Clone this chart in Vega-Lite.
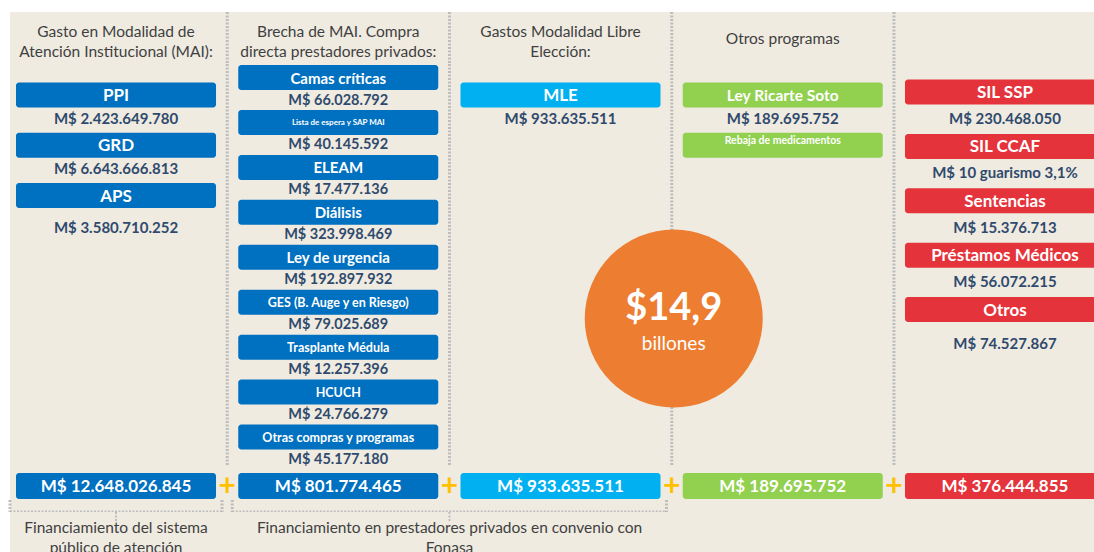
{
  "$schema": "https://vega.github.io/schema/vega-lite/v6.json",
  "background": "#FFFFFF",
  "padding": {"left": 8, "top": 10, "right": 0, "bottom": 0},
  "spacing": 0,
  "bounds": "flush",
  "config": {"view": {"stroke": null, "fill": "#EFEBE1"}, "font": "Lato", "concat": {"spacing": 0}},
  "datasets": {
    "columnas": [
      {"columna": "MAI", "encabezado": "Gasto en Modalidad de\nAtención Institucional (MAI):", "total": "M$ 12.648.026.845"},
      {"columna": "Brecha MAI", "encabezado": "Brecha de MAI. Compra\ndirecta prestadores privados:", "total": "M$ 801.774.465"},
      {"columna": "MLE", "encabezado": "Gastos Modalidad Libre\nElección:", "total": "M$ 933.635.511"},
      {"columna": "Otros programas", "encabezado": "Otros programas", "total": "M$ 189.695.752"},
      {"columna": "Otros gastos", "encabezado": "", "total": "M$ 376.444.855"}
    ],
    "partidas": [
      {"columna": "MAI", "orden": 1, "nombre": "PPI", "monto": "M$ 2.423.649.780"},
      {"columna": "MAI", "orden": 2, "nombre": "GRD", "monto": "M$ 6.643.666.813"},
      {"columna": "MAI", "orden": 3, "nombre": "APS", "monto": "M$ 3.580.710.252"},
      {"columna": "Brecha MAI", "orden": 1, "nombre": "Camas críticas", "monto": "M$ 66.028.792"},
      {"columna": "Brecha MAI", "orden": 2, "nombre": "Lista de espera  y SAP MAI", "monto": "M$ 40.145.592"},
      {"columna": "Brecha MAI", "orden": 3, "nombre": "ELEAM", "monto": "M$ 17.477.136"},
      {"columna": "Brecha MAI", "orden": 4, "nombre": "Diálisis", "monto": "M$ 323.998.469"},
      {"columna": "Brecha MAI", "orden": 5, "nombre": "Ley de urgencia", "monto": "M$ 192.897.932"},
      {"columna": "Brecha MAI", "orden": 6, "nombre": "GES (B. Auge y en Riesgo)", "monto": "M$ 79.025.689"},
      {"columna": "Brecha MAI", "orden": 7, "nombre": "Trasplante Médula", "monto": "M$ 12.257.396"},
      {"columna": "Brecha MAI", "orden": 8, "nombre": "HCUCH", "monto": "M$ 24.766.279"},
      {"columna": "Brecha MAI", "orden": 9, "nombre": "Otras compras y programas", "monto": "M$ 45.177.180"},
      {"columna": "MLE", "orden": 1, "nombre": "MLE", "monto": "M$ 933.635.511"},
      {"columna": "Otros programas", "orden": 1, "nombre": "Ley Ricarte Soto", "monto": "M$ 189.695.752"},
      {"columna": "Otros programas", "orden": 2, "nombre": "Rebaja de medicamentos", "monto": ""},
      {"columna": "Otros gastos", "orden": 1, "nombre": "SIL SSP", "monto": "M$ 230.468.050"},
      {"columna": "Otros gastos", "orden": 2, "nombre": "SIL CCAF", "monto": "M$ 10  guarismo 3,1%"},
      {"columna": "Otros gastos", "orden": 3, "nombre": "Sentencias", "monto": "M$ 15.376.713"},
      {"columna": "Otros gastos", "orden": 4, "nombre": "Préstamos Médicos", "monto": "M$ 56.072.215"},
      {"columna": "Otros gastos", "orden": 5, "nombre": "Otros", "monto": "M$ 74.527.867"}
    ],
    "resumen": [{"cifra": "$14,9", "unidad": "billones"}],
    "pies": [
      {"texto": "Financiamiento del sistema\npúblico de atención", "desde": "MAI", "hasta": "MAI"},
      {"texto": "Financiamiento en prestadores privados en convenio con\nFonasa", "desde": "Brecha MAI", "hasta": "MLE"}
    ]
  },
  "vconcat": [
    {
      "width": 1086, "height": 52,
      "data": {"name": "columnas"},
      "layer": [
        {
          "transform": [{"filter": "datum.columna != 'MAI'"}],
          "mark": {"type": "rule", "xOffset": -11, "strokeDash": [2, 1.5], "strokeWidth": 3, "color": "#BDBDBD"},
          "encoding": {"x": {"field": "columna", "type": "nominal", "bandPosition": 0, "axis": null,
            "scale": {"type": "band", "domain": ["MAI", "Brecha MAI", "MLE", "Otros programas", "Otros gastos"], "range": [6, 1095], "paddingInner": 0.1, "paddingOuter": 0}}}
        },
        {
          "transform": [{"filter": "datum.columna != 'Otros programas'"}],
          "mark": {"type": "text", "lineBreak": "\n", "baseline": "middle", "dy": -6, "fontSize": 15.5, "lineHeight": 20, "color": "#3F3F3F"},
          "encoding": {
            "x": {"field": "columna", "type": "nominal", "axis": null},
            "text": {"field": "encabezado"}
          }
        },
        {
          "transform": [{"filter": "datum.columna == 'Otros programas'"}],
          "mark": {"type": "text", "baseline": "middle", "dy": 1, "fontSize": 15.5, "color": "#3F3F3F"},
          "encoding": {
            "x": {"field": "columna", "type": "nominal", "axis": null},
            "text": {"field": "encabezado"}
          }
        }
      ]
    },
    {
      "width": 1086, "height": 402,
      "data": {"name": "partidas"},
      "resolve": {"scale": {"y": "independent"}},
      "layer": [
        {
          "data": {"name": "columnas"},
          "transform": [{"filter": "datum.columna != 'MAI'"}],
          "mark": {"type": "rule", "xOffset": -11, "strokeDash": [2, 1.5], "strokeWidth": 3, "color": "#BDBDBD"},
          "encoding": {"x": {"field": "columna", "type": "nominal", "bandPosition": 0, "axis": null,
            "scale": {"type": "band", "domain": ["MAI", "Brecha MAI", "MLE", "Otros programas", "Otros gastos"], "range": [6, 1095], "paddingInner": 0.1, "paddingOuter": 0}}}
        },
        {
          "transform": [{"filter": "indexof(['MAI','MLE','Otros programas'], datum.columna) >= 0"}],
          "encoding": {
            "x": {"field": "columna", "type": "nominal", "axis": null},
            "y": {"field": "orden", "type": "quantitative", "axis": null, "scale": {"domain": [1, 3], "range": [31, 131.5], "nice": false, "zero": false}}
          },
          "layer": [
            {
              "mark": {"type": "rect", "yOffset": -12.5, "y2Offset": 12.5, "cornerRadius": 3},
              "encoding": {
                "y2": {"field": "orden"},
                "color": {"field": "columna", "type": "nominal", "legend": null,
                  "scale": {"domain": ["MAI", "Brecha MAI", "MLE", "Otros programas", "Otros gastos"], "range": ["#0070C0", "#0070C0", "#00B0F0", "#92D050", "#E5333B"]}}
              }
            },
            {
              "transform": [{"filter": "datum.columna != 'Otros programas'"}],
              "mark": {"type": "text", "color": "#FFFFFF", "fontWeight": "bold", "fontSize": 17, "baseline": "middle", "dy": 1},
              "encoding": {"text": {"field": "nombre"}}
            },
            {
              "transform": [{"filter": "datum.nombre == 'Ley Ricarte Soto'"}],
              "mark": {"type": "text", "color": "#FFFFFF", "fontWeight": "bold", "fontSize": 15.5, "baseline": "middle", "dy": 1},
              "encoding": {"text": {"field": "nombre"}}
            },
            {
              "transform": [{"filter": "datum.nombre == 'Rebaja de medicamentos'"}],
              "mark": {"type": "text", "color": "#FFFFFF", "fontWeight": "bold", "fontSize": 10.5, "baseline": "middle", "dy": -4},
              "encoding": {"text": {"field": "nombre"}}
            },
            {
              "transform": [{"filter": "datum.nombre != 'APS'"}],
              "mark": {"type": "text", "color": "#2F4A6D", "fontWeight": "bold", "fontSize": 15, "baseline": "middle", "dy": 24},
              "encoding": {"text": {"field": "monto"}}
            },
            {
              "transform": [{"filter": "datum.nombre == 'APS'"}],
              "mark": {"type": "text", "color": "#2F4A6D", "fontWeight": "bold", "fontSize": 15, "baseline": "middle", "dy": 32},
              "encoding": {"text": {"field": "monto"}}
            }
          ]
        },
        {
          "transform": [{"filter": "datum.columna == 'Brecha MAI'"}],
          "encoding": {
            "x": {"field": "columna", "type": "nominal", "axis": null},
            "y": {"field": "orden", "type": "quantitative", "axis": null, "scale": {"domain": [1, 9], "range": [13.5, 373], "nice": false, "zero": false}}
          },
          "layer": [
            {
              "mark": {"type": "rect", "yOffset": -12.5, "y2Offset": 12.5, "cornerRadius": 3, "color": "#0070C0"},
              "encoding": {"y2": {"field": "orden"}}
            },
            {
              "transform": [{"filter": "indexof(['Camas críticas','ELEAM','Diálisis','Ley de urgencia'], datum.nombre) >= 0"}],
              "mark": {"type": "text", "color": "#FFFFFF", "fontWeight": "bold", "fontSize": 15, "baseline": "middle", "dy": 1},
              "encoding": {"text": {"field": "nombre"}}
            },
            {
              "transform": [{"filter": "indexof(['GES (B. Auge y en Riesgo)','Trasplante Médula','HCUCH','Otras compras y programas'], datum.nombre) >= 0"}],
              "mark": {"type": "text", "color": "#FFFFFF", "fontWeight": "bold", "fontSize": 12.5, "baseline": "middle", "dy": 1},
              "encoding": {"text": {"field": "nombre"}}
            },
            {
              "transform": [{"filter": "datum.nombre == 'Lista de espera  y SAP MAI'"}],
              "mark": {"type": "text", "color": "#FFFFFF", "fontWeight": "bold", "fontSize": 8, "baseline": "middle", "dy": 1},
              "encoding": {"text": {"field": "nombre"}}
            },
            {
              "mark": {"type": "text", "color": "#2F4A6D", "fontWeight": "bold", "fontSize": 14.5, "baseline": "middle", "dy": 23},
              "encoding": {"text": {"field": "monto"}}
            }
          ]
        },
        {
          "transform": [{"filter": "datum.columna == 'Otros gastos'"}],
          "encoding": {
            "x": {"field": "columna", "type": "nominal", "axis": null},
            "y": {"field": "orden", "type": "quantitative", "axis": null, "scale": {"domain": [1, 5], "range": [28, 245.5], "nice": false, "zero": false}}
          },
          "layer": [
            {
              "mark": {"type": "rect", "yOffset": -12.5, "y2Offset": 12.5, "cornerRadius": 3, "color": "#E5333B", "clip": true},
              "encoding": {"y2": {"field": "orden"}}
            },
            {
              "mark": {"type": "text", "color": "#FFFFFF", "fontWeight": "bold", "fontSize": 17, "baseline": "middle", "dy": 1},
              "encoding": {"text": {"field": "nombre"}}
            },
            {
              "transform": [{"filter": "datum.nombre != 'Otros'"}],
              "mark": {"type": "text", "color": "#2F4A6D", "fontWeight": "bold", "fontSize": 15, "baseline": "middle", "dy": 27},
              "encoding": {"text": {"field": "monto"}}
            },
            {
              "transform": [{"filter": "datum.nombre == 'Otros'"}],
              "mark": {"type": "text", "color": "#2F4A6D", "fontWeight": "bold", "fontSize": 15, "baseline": "middle", "dy": 34},
              "encoding": {"text": {"field": "monto"}}
            }
          ]
        },
        {
          "data": {"name": "resumen"},
          "encoding": {"x": {"datum": "Otros programas", "type": "nominal", "bandPosition": 0, "axis": null}},
          "layer": [
            {"mark": {"type": "point", "shape": "circle", "filled": true, "size": 31684, "color": "#ED7D31", "opacity": 1, "xOffset": -9, "yOffset": 53.5}},
            {"mark": {"type": "text", "color": "#FFFFFF", "fontWeight": "bold", "fontSize": 38, "baseline": "middle", "xOffset": -9, "yOffset": 44}, "encoding": {"text": {"field": "cifra"}}},
            {"mark": {"type": "text", "color": "#FFFFFF", "fontSize": 19, "baseline": "middle", "xOffset": -9, "yOffset": 79}, "encoding": {"text": {"field": "unidad"}}}
          ]
        }
      ]
    },
    {
      "width": 1086, "height": 46,
      "data": {"name": "columnas"},
      "encoding": {"y": {"datum": "Total", "type": "nominal", "axis": null, "scale": {"type": "band", "paddingInner": 0, "paddingOuter": 0}}},
      "layer": [
        {
          "mark": {"type": "rect", "height": 26, "cornerRadius": 3, "clip": true, "yOffset": -3},
          "encoding": {
            "x": {"field": "columna", "type": "nominal", "axis": null,
              "scale": {"type": "band", "domain": ["MAI", "Brecha MAI", "MLE", "Otros programas", "Otros gastos"], "range": [6, 1095], "paddingInner": 0.1, "paddingOuter": 0}},
            "color": {"field": "columna", "type": "nominal", "legend": null,
              "scale": {"domain": ["MAI", "Brecha MAI", "MLE", "Otros programas", "Otros gastos"], "range": ["#0070C0", "#0070C0", "#1BA3E3", "#92D050", "#E5333B"]}}
          }
        },
        {
          "mark": {"type": "text", "color": "#FFFFFF", "fontWeight": "bold", "fontSize": 17, "baseline": "middle", "dy": -2},
          "encoding": {"x": {"field": "columna", "type": "nominal", "axis": null}, "text": {"field": "total"}}
        },
        {
          "transform": [{"filter": "datum.columna != 'MAI'"}],
          "mark": {"type": "text", "text": "+", "color": "#FFC000", "fontSize": 30, "fontWeight": "bold", "baseline": "middle", "xOffset": -11, "dy": -2},
          "encoding": {"x": {"field": "columna", "type": "nominal", "bandPosition": 0, "axis": null}}
        },
        {
          "data": {"name": "pies"},
          "mark": {"type": "rule", "strokeDash": [2, 1.5], "strokeWidth": 3, "color": "#BDBDBD", "xOffset": -6, "x2Offset": 6},
          "encoding": {
            "x": {"field": "desde", "type": "nominal", "bandPosition": 0, "axis": null},
            "x2": {"field": "hasta", "bandPosition": 1},
            "y": {"datum": "Total", "type": "nominal", "bandPosition": 1, "axis": null}
          }
        },
        {
          "data": {"name": "pies"},
          "mark": {"type": "rule", "strokeDash": [2, 1.5], "strokeWidth": 3, "color": "#BDBDBD", "xOffset": -6},
          "encoding": {
            "x": {"field": "desde", "type": "nominal", "bandPosition": 0, "axis": null},
            "y": {"datum": "Total", "type": "nominal", "bandPosition": 0.74, "axis": null},
            "y2": {"datum": "Total", "bandPosition": 1}
          }
        },
        {
          "data": {"name": "pies"},
          "mark": {"type": "rule", "strokeDash": [2, 1.5], "strokeWidth": 3, "color": "#BDBDBD", "xOffset": 6},
          "encoding": {
            "x": {"field": "hasta", "type": "nominal", "bandPosition": 1, "axis": null},
            "y": {"datum": "Total", "type": "nominal", "bandPosition": 0.74, "axis": null},
            "y2": {"datum": "Total", "bandPosition": 1}
          }
        }
      ]
    },
    {
      "width": 1086, "height": 42,
      "data": {"name": "pies"},
      "encoding": {"y": {"datum": "Pie", "type": "nominal", "axis": null, "scale": {"type": "band", "paddingInner": 0, "paddingOuter": 0}}},
      "layer": [
        {
          "transform": [{"filter": "datum.desde == datum.hasta"}],
          "mark": {"type": "rule", "strokeDash": [2, 1.5], "strokeWidth": 2, "color": "#BDBDBD"},
          "encoding": {
            "x": {"field": "desde", "type": "nominal", "axis": null,
              "scale": {"type": "band", "domain": ["MAI", "Brecha MAI", "MLE", "Otros programas", "Otros gastos"], "range": [6, 1095], "paddingInner": 0.1, "paddingOuter": 0}},
            "y": {"datum": "Pie", "type": "nominal", "bandPosition": 0, "axis": null},
            "y2": {"datum": "Pie", "bandPosition": 0.22}
          }
        },
        {
          "transform": [{"filter": "datum.desde != datum.hasta"}],
          "mark": {"type": "rule", "strokeDash": [2, 1.5], "strokeWidth": 2, "color": "#BDBDBD", "xOffset": -11},
          "encoding": {
            "x": {"field": "hasta", "type": "nominal", "bandPosition": 0, "axis": null},
            "y": {"datum": "Pie", "type": "nominal", "bandPosition": 0, "axis": null},
            "y2": {"datum": "Pie", "bandPosition": 0.22}
          }
        },
        {
          "transform": [{"filter": "datum.desde == datum.hasta"}],
          "mark": {"type": "text", "lineBreak": "\n", "fontSize": 15.5, "lineHeight": 20, "baseline": "middle", "dy": -5, "color": "#3F3F3F", "clip": true},
          "encoding": {
            "x": {"field": "desde", "type": "nominal", "axis": null},
            "text": {"field": "texto"}
          }
        },
        {
          "transform": [{"filter": "datum.desde != datum.hasta"}],
          "mark": {"type": "text", "lineBreak": "\n", "fontSize": 15.5, "lineHeight": 20, "baseline": "middle", "dy": -5, "xOffset": -11, "color": "#3F3F3F", "clip": true},
          "encoding": {
            "x": {"field": "hasta", "type": "nominal", "bandPosition": 0, "axis": null},
            "text": {"field": "texto"}
          }
        }
      ]
    }
  ]
}
